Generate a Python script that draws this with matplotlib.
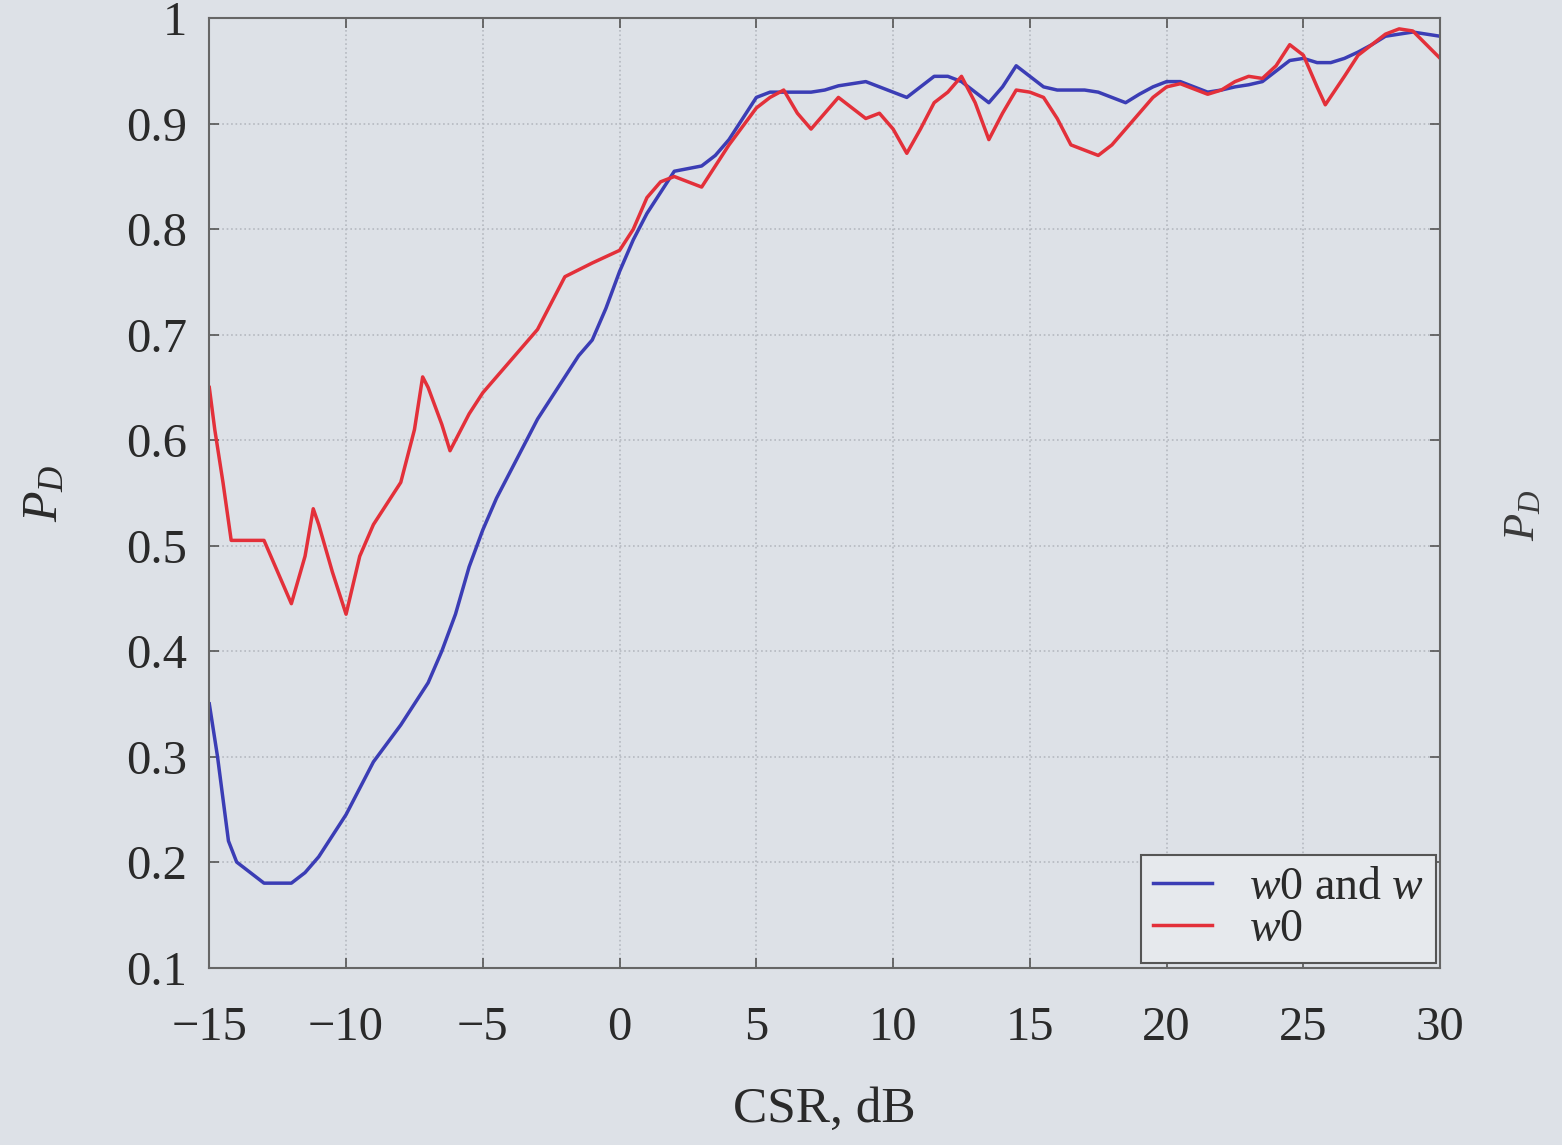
import numpy as np
import matplotlib
matplotlib.use('Agg')
from matplotlib import pyplot as plt
from matplotlib.ticker import FormatStrFormatter

# values
blue_x = [-15, -14.7, -14.3, -14, -13.5, -13, -12, -11.5, -11, -10.5, -10, -9.5, -9, -8, -7,
          -6.5, -6, -5.5, -5, -4.5, -4, -3.5, -3, -2.5, -2, -1.5, -1, -0.5, 0, 0.5, 1, 1.5,
          2, 3, 3.5, 4, 4.5, 5, 5.5, 6, 7, 7.5, 8, 8.5, 9, 9.5, 10, 10.5, 11, 11.5, 12,
          12.5, 13, 13.5, 14, 14.5, 15, 15.5, 16, 17, 17.5, 18, 18.5, 19, 19.5, 20, 20.5,
          21, 21.5, 22, 22.5, 23, 23.5, 24, 24.5, 25, 25.5, 26, 26.5, 27, 27.5, 28, 28.5,
          29, 29.5, 30]
blue_y = [0.35, 0.30, 0.22, 0.20, 0.19, 0.18, 0.18, 0.19, 0.205, 0.225, 0.245, 0.27, 0.295,
          0.33, 0.37, 0.40, 0.435, 0.48, 0.515, 0.545, 0.57, 0.595, 0.62, 0.64, 0.66, 0.68,
          0.695, 0.725, 0.76, 0.79, 0.815, 0.835, 0.855, 0.86, 0.87, 0.885, 0.905, 0.925,
          0.93, 0.93, 0.93, 0.932, 0.936, 0.938, 0.94, 0.935, 0.93, 0.925, 0.935, 0.945,
          0.945, 0.94, 0.93, 0.92, 0.935, 0.955, 0.945, 0.935, 0.932, 0.932, 0.93, 0.925,
          0.92, 0.928, 0.935, 0.94, 0.94, 0.935, 0.93, 0.932, 0.935, 0.937, 0.94, 0.95,
          0.96, 0.962, 0.958, 0.958, 0.962, 0.968, 0.975, 0.983, 0.985, 0.987, 0.985, 0.983]

red_x = [-15, -14.8, -14.5, -14.2, -13.5, -13, -12.5, -12, -11.5, -11.2, -11, -10.5, -10,
         -9.5, -9, -8.5, -8, -7.5, -7.2, -7, -6.5, -6.2, -6, -5.5, -5, -4, -3, -2.5, -2, -1,
         0, 0.5, 1, 1.5, 2, 2.5, 3, 3.5, 4, 5, 5.5, 6, 6.5, 7, 7.5, 8, 8.5, 9, 9.5, 10,
         10.5, 11, 11.5, 12, 12.5, 13, 13.5, 14, 14.5, 15, 15.5, 16, 16.5, 17, 17.5, 18, 19,
         19.5, 20, 20.5, 21, 21.5, 22, 22.5, 23, 23.5, 24, 24.5, 25, 25.5, 25.8, 26.5, 27,
         27.5, 28, 28.5, 29, 29.5, 30]
red_y = [0.65, 0.61, 0.56, 0.505, 0.505, 0.505, 0.475, 0.445, 0.49, 0.535, 0.52, 0.475,
         0.435, 0.49, 0.52, 0.54, 0.56, 0.61, 0.66, 0.65, 0.615, 0.59, 0.60, 0.625, 0.645,
         0.675, 0.705, 0.73, 0.755, 0.768, 0.78, 0.80, 0.83, 0.845, 0.85, 0.845, 0.84, 0.86,
         0.88, 0.915, 0.925, 0.932, 0.91, 0.895, 0.91, 0.925, 0.915, 0.905, 0.91, 0.895,
         0.872, 0.895, 0.92, 0.93, 0.945, 0.92, 0.885, 0.91, 0.932, 0.93, 0.925, 0.905, 0.88,
         0.875, 0.87, 0.88, 0.91, 0.925, 0.935, 0.938, 0.933, 0.928, 0.932, 0.94, 0.945,
         0.943, 0.955, 0.975, 0.965, 0.935, 0.918, 0.945, 0.965, 0.975, 0.985, 0.99, 0.988,
         0.975, 0.962]

x_ticks = [-15, -10, -5, 0, 5, 10, 15, 20, 25, 30]
y_ticks = [0.1, 0.2, 0.3, 0.4, 0.5, 0.6, 0.7, 0.8, 0.9, 1.0]
labels = [r'$w$0 and $w$', r'$w$0']

plt.rcParams['font.family'] = ['Liberation Serif', 'DejaVu Serif']
plt.rcParams['mathtext.fontset'] = 'custom'
plt.rcParams['mathtext.it'] = 'Liberation Serif:italic'
plt.rcParams['mathtext.rm'] = 'Liberation Serif'

paper = '#dde1e7'
ink = '#2a2a2a'
fig = plt.figure(figsize=(15.62, 11.45), dpi=100, facecolor=paper)
ax = fig.add_axes([0.134, 0.155, 0.788, 0.829])
ax.set_facecolor(paper)

ax.plot(blue_x, blue_y, color='#3b3db5', lw=2.5, label=labels[0])
ax.plot(red_x, red_y, color='#e3303a', lw=2.5, label=labels[1])

ax.set_xlim(-15, 30)
ax.set_ylim(0.1, 1.0)
ax.set_xticks(x_ticks)
ax.set_yticks(y_ticks)
ax.yaxis.set_major_formatter(FormatStrFormatter('%g'))
ax.grid(True, color='#b5b9c0', linestyle=':', lw=1.2)
ax.tick_params(direction='in', top=True, right=True, length=7, width=1.2,
               color='#555555', labelsize=35, labelcolor=ink)
ax.tick_params(axis='x', pad=28)
ax.tick_params(axis='y', pad=16)
for s in ax.spines.values():
    s.set_color('#666666')
    s.set_linewidth(1.5)

ax.set_xlabel('CSR, dB', fontsize=37, color=ink, labelpad=26)
ax.set_ylabel(r'$P_D$', fontsize=36, color=ink, labelpad=42)

leg = ax.legend(loc='lower right', fontsize=33, handlelength=1.3, handletextpad=0.8,
                borderpad=0.25, labelspacing=0.0, fancybox=False, framealpha=1,
                facecolor='#e6e9ed', edgecolor='#555555', borderaxespad=0.1)
leg.get_frame().set_linewidth(1.5)
for t in leg.get_texts():
    t.set_color(ink)

# axis label of the neighbouring chart at the page edge
fig.text(0.975, 0.55, r'$P_D$', fontsize=32, rotation=90, color='#3a3a3a',
         ha='center', va='center')

fig.savefig('out.png', dpi=100, facecolor=paper)
